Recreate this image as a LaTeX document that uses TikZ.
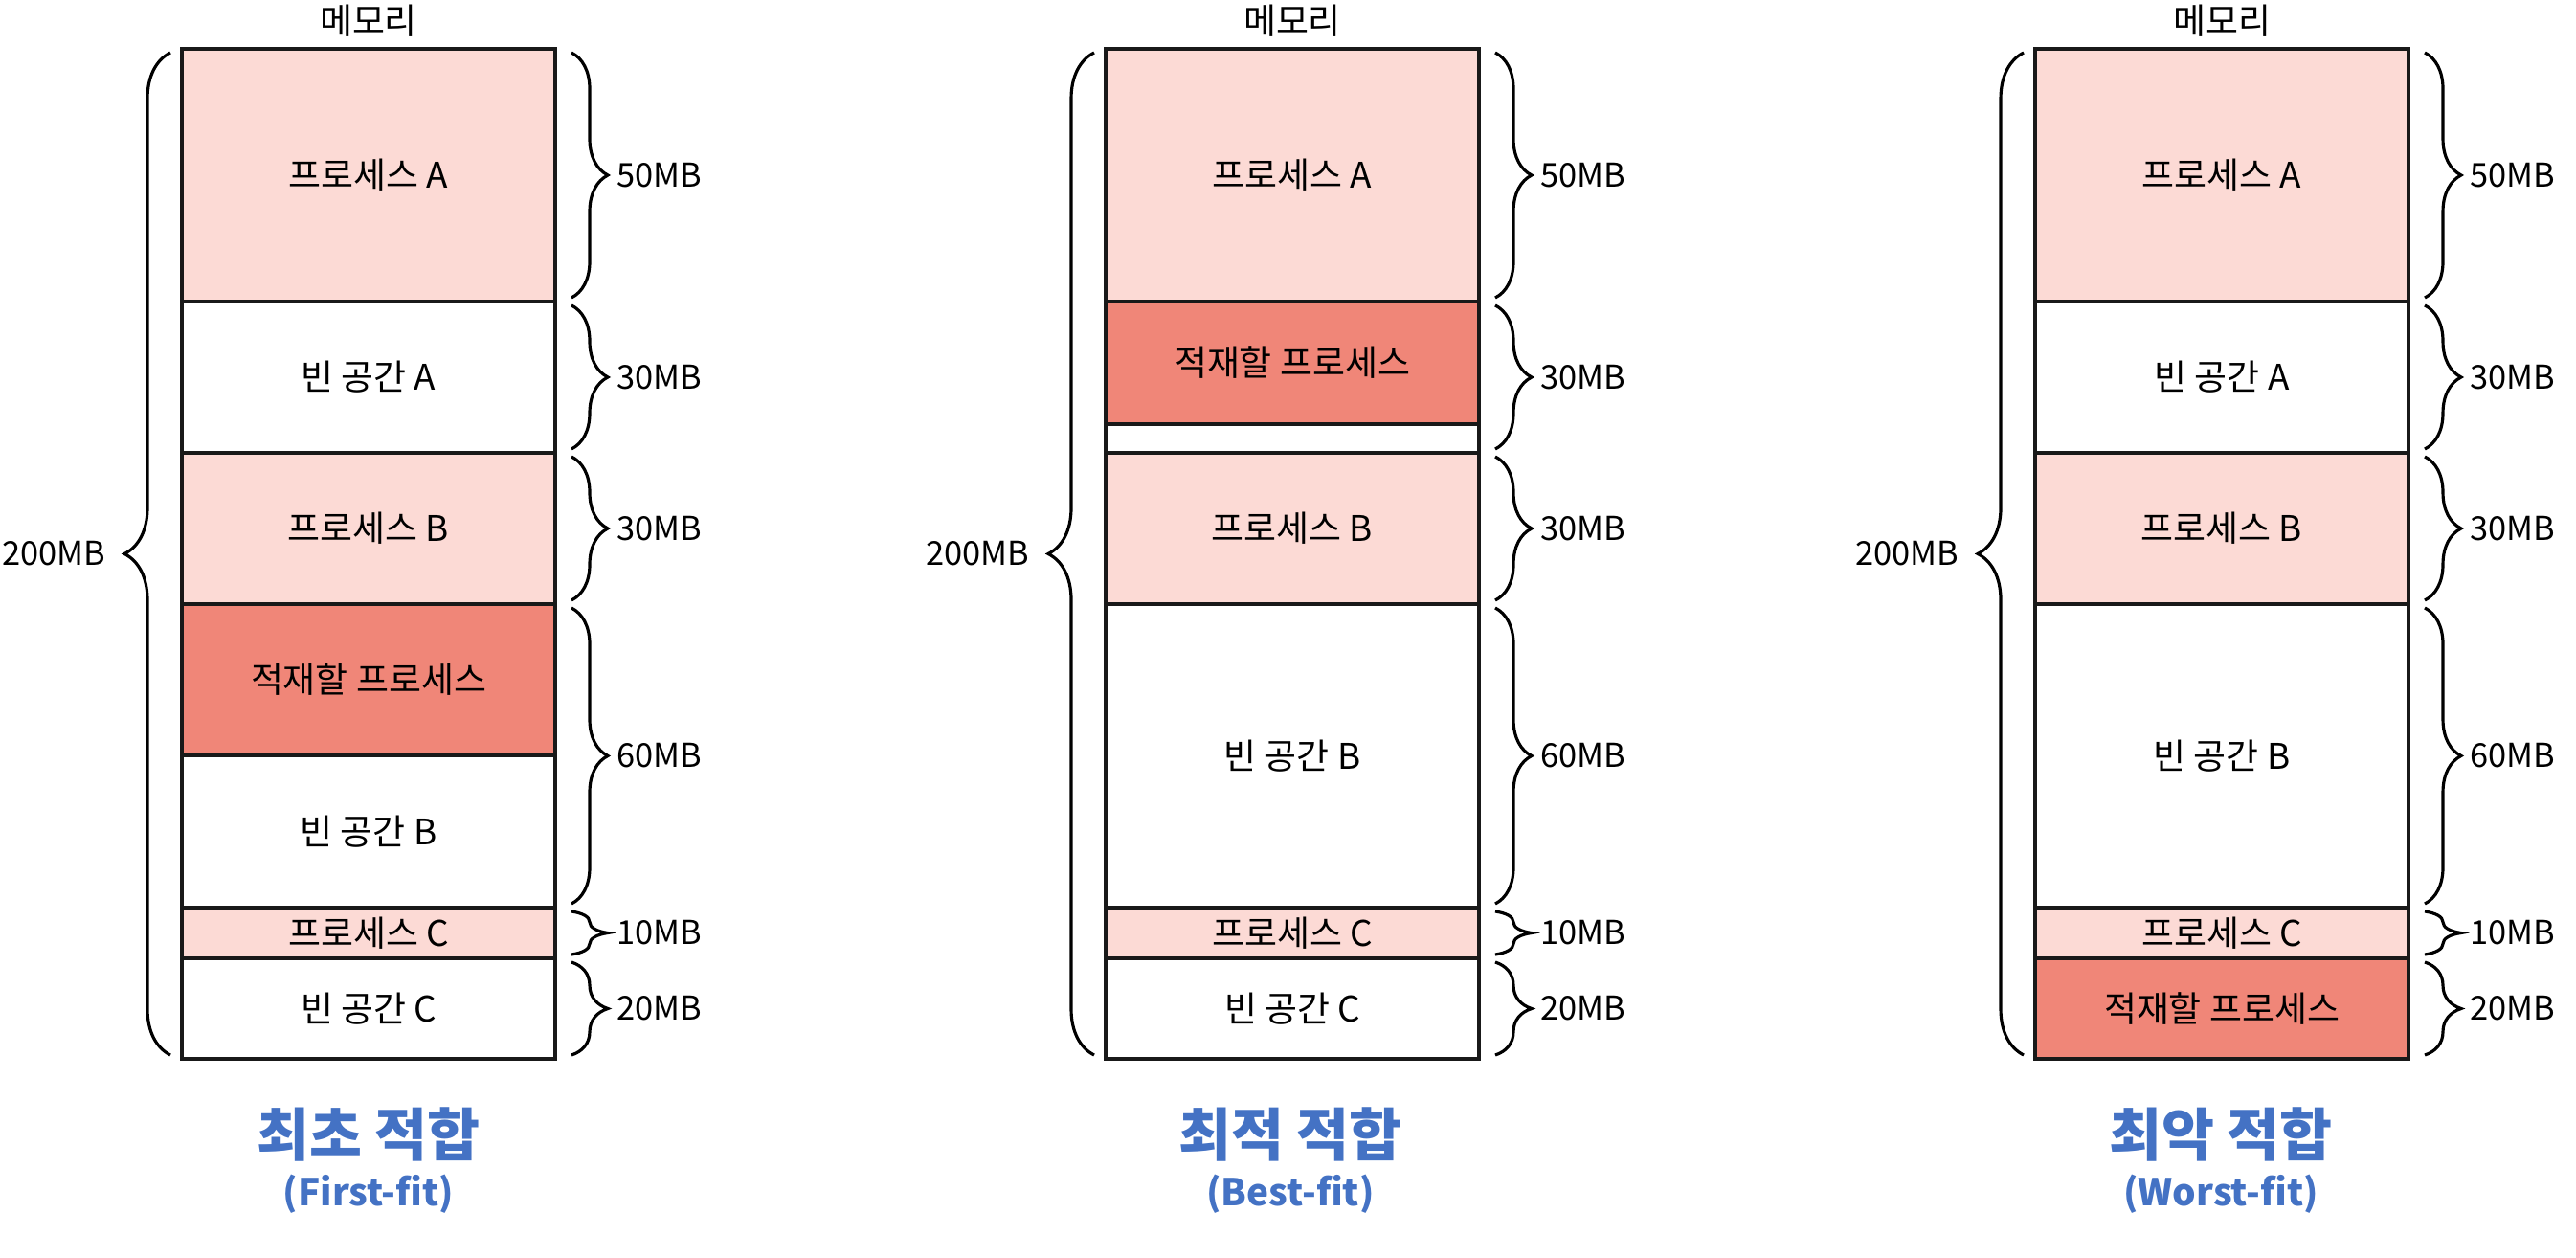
\documentclass[tikz,border=0pt]{standalone}
\usepackage{fontspec}
\setmainfont{Noto Sans CJK KR}
\usetikzlibrary{positioning,decorations.pathreplacing}

\definecolor{procpink}{RGB}{252,218,213}
\definecolor{loadred}{RGB}{240,134,120}
\definecolor{titleblue}{RGB}{68,114,196}

\tikzset{
  seg/.style={draw=black!90,line width=1pt,minimum width=3.9cm,inner sep=0pt,outer sep=0pt,font=\fontsize{10.5}{12}\selectfont},
  proc/.style={seg,fill=procpink},
  load/.style={seg,fill=loadred},
  free/.style={seg,fill=white},
  memlabel/.style={inner sep=0pt,font=\fontsize{10.5}{12}\selectfont},
  rbrace/.style={decorate,decoration={brace,amplitude=0.38cm},line width=0.9pt},
  lbrace/.style={decorate,decoration={brace,amplitude=0.48cm},line width=0.9pt},
  size/.style={inner sep=0pt,font=\fontsize{9.8}{12}\selectfont},
  fittitle/.style={inner sep=0pt,text=titleblue,font=\fontsize{17}{20}\bfseries\selectfont},
  fitsub/.style={inner sep=0pt,text=titleblue,font=\fontsize{11}{13}\bfseries\selectfont}
}

\begin{document}
\begin{tikzpicture}
\useasboundingbox (0,0) rectangle (26.91,13.13);

% first-fit
\node[proc,minimum height=2.64cm,anchor=north] (fA) at (3.85,12.62) {프로세스 A};
\node[free,minimum height=1.58cm] (fEA) [below=0cm of fA] {빈 공간 A};
\node[proc,minimum height=1.58cm] (fB) [below=0cm of fEA] {프로세스 B};
\node[load,minimum height=1.58cm] (fL) [below=0cm of fB] {적재할 프로세스};
\node[free,minimum height=1.59cm] (fEB) [below=0cm of fL] {빈 공간 B};
\node[proc,minimum height=0.53cm] (fC) [below=0cm of fEB] {프로세스 C};
\node[free,minimum height=1.05cm] (fEC) [below=0cm of fC] {빈 공간 C};
\node[memlabel] (fmem) [above=0.12cm of fA] {메모리};

\draw[rbrace] ([xshift=0.17cm,yshift=-0.04cm]fA.north east) -- ([xshift=0.17cm,yshift=0.04cm]fA.south east) node[size,midway,anchor=west,xshift=0.46cm] {50MB};
\draw[rbrace] ([xshift=0.17cm,yshift=-0.04cm]fEA.north east) -- ([xshift=0.17cm,yshift=0.04cm]fEA.south east) node[size,midway,anchor=west,xshift=0.46cm] {30MB};
\draw[rbrace] ([xshift=0.17cm,yshift=-0.04cm]fB.north east) -- ([xshift=0.17cm,yshift=0.04cm]fB.south east) node[size,midway,anchor=west,xshift=0.46cm] {30MB};
\draw[rbrace] ([xshift=0.17cm,yshift=-0.04cm]fL.north east) -- ([xshift=0.17cm,yshift=0.04cm]fEB.south east) node[size,midway,anchor=west,xshift=0.46cm] {60MB};
\draw[rbrace] ([xshift=0.17cm,yshift=-0.04cm]fC.north east) -- ([xshift=0.17cm,yshift=0.04cm]fC.south east) node[size,midway,anchor=west,xshift=0.46cm] {10MB};
\draw[rbrace] ([xshift=0.17cm,yshift=-0.04cm]fEC.north east) -- ([xshift=0.17cm,yshift=0.04cm]fEC.south east) node[size,midway,anchor=west,xshift=0.46cm] {20MB};
\draw[lbrace] ([xshift=-0.12cm,yshift=0.04cm]fEC.south west) -- ([xshift=-0.12cm,yshift=-0.04cm]fA.north west) node[size,midway,anchor=east,xshift=-0.66cm] {200MB};

\node[fittitle] (ftitle) at (3.85,1.28) {최초 적합};
\node[fitsub] (fsub) [below=0.12cm of ftitle] {(First-fit)};

% best-fit
\node[proc,minimum height=2.64cm,anchor=north] (bA) at (13.50,12.62) {프로세스 A};
\node[load,minimum height=1.28cm] (bL) [below=0cm of bA] {적재할 프로세스};
\node[free,minimum height=0.30cm] (bG) [below=0cm of bL] {};
\node[proc,minimum height=1.58cm] (bB) [below=0cm of bG] {프로세스 B};
\node[free,minimum height=3.17cm] (bEB) [below=0cm of bB] {빈 공간 B};
\node[proc,minimum height=0.53cm] (bC) [below=0cm of bEB] {프로세스 C};
\node[free,minimum height=1.05cm] (bEC) [below=0cm of bC] {빈 공간 C};
\node[memlabel] (bmem) [above=0.12cm of bA] {메모리};

\draw[rbrace] ([xshift=0.17cm,yshift=-0.04cm]bA.north east) -- ([xshift=0.17cm,yshift=0.04cm]bA.south east) node[size,midway,anchor=west,xshift=0.46cm] {50MB};
\draw[rbrace] ([xshift=0.17cm,yshift=-0.04cm]bL.north east) -- ([xshift=0.17cm,yshift=0.04cm]bG.south east) node[size,midway,anchor=west,xshift=0.46cm] {30MB};
\draw[rbrace] ([xshift=0.17cm,yshift=-0.04cm]bB.north east) -- ([xshift=0.17cm,yshift=0.04cm]bB.south east) node[size,midway,anchor=west,xshift=0.46cm] {30MB};
\draw[rbrace] ([xshift=0.17cm,yshift=-0.04cm]bEB.north east) -- ([xshift=0.17cm,yshift=0.04cm]bEB.south east) node[size,midway,anchor=west,xshift=0.46cm] {60MB};
\draw[rbrace] ([xshift=0.17cm,yshift=-0.04cm]bC.north east) -- ([xshift=0.17cm,yshift=0.04cm]bC.south east) node[size,midway,anchor=west,xshift=0.46cm] {10MB};
\draw[rbrace] ([xshift=0.17cm,yshift=-0.04cm]bEC.north east) -- ([xshift=0.17cm,yshift=0.04cm]bEC.south east) node[size,midway,anchor=west,xshift=0.46cm] {20MB};
\draw[lbrace] ([xshift=-0.12cm,yshift=0.04cm]bEC.south west) -- ([xshift=-0.12cm,yshift=-0.04cm]bA.north west) node[size,midway,anchor=east,xshift=-0.66cm] {200MB};

\node[fittitle] (btitle) at (13.48,1.28) {최적 적합};
\node[fitsub] (bsub) [below=0.12cm of btitle] {(Best-fit)};

% worst-fit
\node[proc,minimum height=2.64cm,anchor=north] (wA) at (23.21,12.62) {프로세스 A};
\node[free,minimum height=1.58cm] (wEA) [below=0cm of wA] {빈 공간 A};
\node[proc,minimum height=1.58cm] (wB) [below=0cm of wEA] {프로세스 B};
\node[free,minimum height=3.17cm] (wEB) [below=0cm of wB] {빈 공간 B};
\node[proc,minimum height=0.53cm] (wC) [below=0cm of wEB] {프로세스 C};
\node[load,minimum height=1.05cm] (wL) [below=0cm of wC] {적재할 프로세스};
\node[memlabel] (wmem) [above=0.12cm of wA] {메모리};

\draw[rbrace] ([xshift=0.17cm,yshift=-0.04cm]wA.north east) -- ([xshift=0.17cm,yshift=0.04cm]wA.south east) node[size,midway,anchor=west,xshift=0.46cm] {50MB};
\draw[rbrace] ([xshift=0.17cm,yshift=-0.04cm]wEA.north east) -- ([xshift=0.17cm,yshift=0.04cm]wEA.south east) node[size,midway,anchor=west,xshift=0.46cm] {30MB};
\draw[rbrace] ([xshift=0.17cm,yshift=-0.04cm]wB.north east) -- ([xshift=0.17cm,yshift=0.04cm]wB.south east) node[size,midway,anchor=west,xshift=0.46cm] {30MB};
\draw[rbrace] ([xshift=0.17cm,yshift=-0.04cm]wEB.north east) -- ([xshift=0.17cm,yshift=0.04cm]wEB.south east) node[size,midway,anchor=west,xshift=0.46cm] {60MB};
\draw[rbrace] ([xshift=0.17cm,yshift=-0.04cm]wC.north east) -- ([xshift=0.17cm,yshift=0.04cm]wC.south east) node[size,midway,anchor=west,xshift=0.46cm] {10MB};
\draw[rbrace] ([xshift=0.17cm,yshift=-0.04cm]wL.north east) -- ([xshift=0.17cm,yshift=0.04cm]wL.south east) node[size,midway,anchor=west,xshift=0.46cm] {20MB};
\draw[lbrace] ([xshift=-0.12cm,yshift=0.04cm]wL.south west) -- ([xshift=-0.12cm,yshift=-0.04cm]wA.north west) node[size,midway,anchor=east,xshift=-0.66cm] {200MB};

\node[fittitle] (wtitle) at (23.20,1.28) {최악 적합};
\node[fitsub] (wsub) [below=0.12cm of wtitle] {(Worst-fit)};
\end{tikzpicture}
\end{document}
